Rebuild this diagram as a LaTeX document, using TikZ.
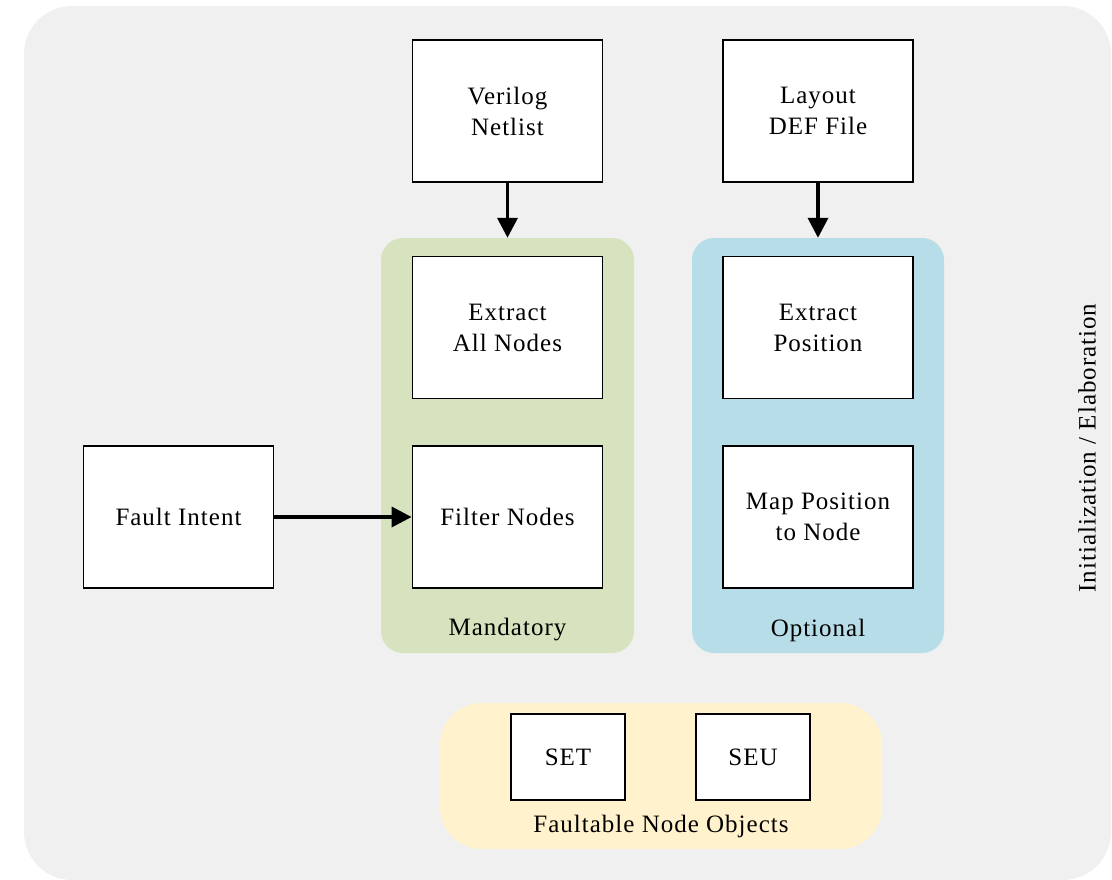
\documentclass[tikz,border=0pt]{standalone}
\usepackage{fontspec}
\setmainfont{Liberation Serif}[LetterSpace=4]
\usetikzlibrary{arrows.meta}
\definecolor{bgc}{RGB}{240,240,240}
\definecolor{grn}{RGB}{215,227,191}
\definecolor{blu}{RGB}{183,221,232}
\definecolor{yel}{RGB}{255,242,204}
\tikzset{
  box/.style={draw=black, line width=1.8bp, fill=white, minimum width=190bp, minimum height=142bp, align=center, inner sep=0pt, font=\fontsize{25bp}{31bp}\selectfont},
  smallbox/.style={box, minimum width=114bp, minimum height=86bp},
  group/.style={rounded corners=22bp, inner sep=0pt},
  lbl/.style={font=\fontsize{25bp}{31bp}\selectfont, inner sep=0pt},
  arr/.style={line width=3.5bp, -{Triangle[length=20bp,width=20bp]}}
}
\begin{document}
\begin{tikzpicture}[x=1bp,y=-1bp]
\useasboundingbox (0,0) rectangle (1112,880);
\fill[bgc, rounded corners=48bp] (24,6) rectangle (1111,880);
% groups
\node[group, fill=grn, minimum width=253bp, minimum height=415bp] (gman) at (507.5,445.5) {};
\node[group, fill=blu, minimum width=252bp, minimum height=415bp] (gopt) at (818,445.5) {};
\node[group, fill=yel, rounded corners=42bp, minimum width=442bp, minimum height=146bp] (gfno) at (661,776) {};
% boxes
\node[box] (verilog) at (507.5,111) {Verilog\\Netlist};
\node[box] (layout) at (818,111) {Layout\\DEF File};
\node[box] (extract) at (507.5,327.5) {Extract\\All Nodes};
\node[box] (filter) at (507.5,517) {Filter Nodes};
\node[box] (extpos) at (818,327.5) {Extract\\Position};
\node[box] (mappos) at (818,517) {Map Position\\to Node};
\node[box] (fault) at (178.5,517) {Fault Intent};
\node[smallbox] (set) at (568,757) {SET};
\node[smallbox] (seu) at (753,757) {SEU};
% labels
\node[lbl] (lman) at (507.5,630) {Mandatory};
\node[lbl] (lopt) at (818,630) {Optional};
\node[lbl] (lfno) at (661,826) {Faultable Node Objects};
\node[lbl, rotate=90] (lini) at (1087,448) {Initialization / Elaboration};
% arrows
\draw[arr] (verilog.south) -- (gman.north);
\draw[arr] (layout.south) -- (gopt.north);
\draw[arr] (fault.east) -- (filter.west);
\end{tikzpicture}
\end{document}
